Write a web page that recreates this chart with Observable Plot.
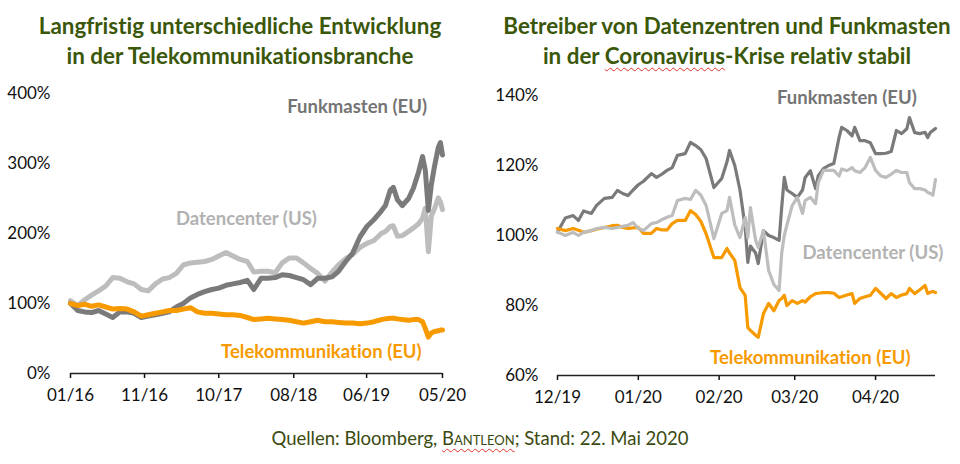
<!DOCTYPE html>
<html><head><meta charset="utf-8">
<script src="https://cdn.jsdelivr.net/npm/d3@7"></script>
<script src="https://cdn.jsdelivr.net/npm/@observablehq/plot@0.6"></script>
<style>
body{margin:0;background:#fff;font-family:Lato,"Open Sans",sans-serif;font-variant-ligatures:none;}
#wrap{position:relative;width:960px;height:464px;overflow:hidden;background:#fff}
.col{position:absolute;top:0;width:480px}
.title{height:70px;box-sizing:border-box;padding-top:11px;text-align:center;font-weight:bold;font-size:22.4px;line-height:30px;color:#3a570a;white-space:nowrap}
.wavy{text-decoration:underline wavy #e03030;text-decoration-thickness:1px;text-underline-offset:3px}
.sc{font-variant:small-caps}
#caption{position:absolute;left:0;width:960px;top:426px;text-align:center;font-size:18.5px;line-height:24px;color:#3b4a10}
svg text{font-variant-ligatures:none}
</style></head>
<body>
<div id="wrap">
  <div class="col" id="colL" style="left:0">
    <div class="title">Langfristig unterschiedliche Entwicklung<br>in der Telekommunikationsbranche</div>
  </div>
  <div class="col" id="colR" style="left:480px">
    <div class="title" style="padding-left:14px">Betreiber von Datenzentren und Funkmasten<br>in der <span class="wavy">Coronavirus</span>-Krise relativ stabil</div>
  </div>
  <div id="caption">Quellen: Bloomberg, <span class="sc wavy">Bantleon</span>; Stand: 22. Mai 2020</div>
</div>
<script>
// ---------- colours ----------
const cFunk = "#7a7a7a", cDaten = "#bdbdbd", cTele = "#f79a00";
const cFunkText = "#747474", cDatenText = "#b2b2b2";

// ---------- left panel data (index, 01/2016 = 100%) ----------
const leftDates = ["2016-01-01","2016-02-01","2016-03-01","2016-04-01","2016-05-01","2016-06-01","2016-07-01","2016-08-01","2016-09-01","2016-10-01","2016-11-01","2016-12-01",
"2017-01-01","2017-02-01","2017-03-01","2017-04-01","2017-05-01","2017-06-01","2017-07-01","2017-08-01","2017-09-01","2017-10-01","2017-11-01","2017-12-01",
"2018-01-01","2018-02-01","2018-03-01","2018-04-01","2018-05-01","2018-06-01","2018-07-01","2018-08-01","2018-09-01","2018-10-01","2018-11-01","2018-12-01",
"2019-01-01","2019-02-01","2019-03-01","2019-04-01","2019-05-01","2019-06-01","2019-07-01","2019-08-01","2019-09-01","2019-09-19","2019-10-10","2019-10-23","2019-11-10","2019-12-01","2019-12-28",
"2020-01-18","2020-02-09","2020-02-26","2020-03-09","2020-03-22","2020-04-04","2020-04-17","2020-05-04","2020-05-13","2020-05-22"];
const leftDaten = [104,97,105,112,118,125,137,136,131,128,120,118,
128,135,137,143,155,158,159,160,163,168,173,168,
163,160,145,146,146,144,158,165,165,158,150,143,
132,145,155,164,170,180,186,190,200,203,210,211,196,197,203,
208,214,222,236,174,225,235,251,245,234];
const leftFunk = [100,90,88,87,90,85,80,88,88,86,80,82,
84,86,88,95,100,108,113,117,120,122,126,128,
130,133,120,136,136,137,141,140,137,134,127,136,
136,138,146,160,172,195,210,220,232,240,262,266,248,240,250,
265,288,310,290,233,270,295,323,330,312];
const leftTele = [100,97,99,96,98,95,92,93,92,88,82,84,
86,88,90,90,92,94,88,86,86,85,84,84,
83,80,77,78,79,78,77,76,74,72,74,76,
74,74,73,72,72,71,72,74,77,78,79,79,78,77,76,
77,77,74,64,52,58,60,61,62,62];
const leftTicks = ["2016-01-01","2016-11-15","2017-10-01","2018-08-20","2019-06-30","2020-05-22"];
const leftYTicks = [0,100,200,300,400];
const leftLabelText = ["Funkmasten (EU)","Datencenter (US)","Telekommunikation (EU)"];
const leftLabelDate = ["2019-05-20","2018-01-28","2018-12-17"];
const leftLabelValue = [381,220,31];

// ---------- right panel data (index, 12/2019 = 100%) ----------
const rightDates = ["2019-12-01","2019-12-04","2019-12-07","2019-12-09","2019-12-11","2019-12-14","2019-12-16","2019-12-19","2019-12-22","2019-12-24","2019-12-26","2019-12-28","2019-12-30",
"2020-01-01","2020-01-03","2020-01-06","2020-01-08","2020-01-10","2020-01-12","2020-01-14","2020-01-16","2020-01-19","2020-01-21","2020-01-23","2020-01-25","2020-01-27","2020-01-30",
"2020-02-02","2020-02-04","2020-02-05","2020-02-07","2020-02-09","2020-02-11","2020-02-12","2020-02-13","2020-02-15","2020-02-16","2020-02-18","2020-02-20","2020-02-22","2020-02-24","2020-02-25","2020-02-26","2020-02-27","2020-02-29",
"2020-03-02","2020-03-04","2020-03-05","2020-03-07","2020-03-09","2020-03-10","2020-03-12","2020-03-14","2020-03-16","2020-03-18","2020-03-19","2020-03-21","2020-03-23","2020-03-24","2020-03-26","2020-03-28","2020-03-30",
"2020-04-01","2020-04-03","2020-04-05","2020-04-07","2020-04-09","2020-04-11","2020-04-13","2020-04-14","2020-04-16","2020-04-18","2020-04-20","2020-04-21","2020-04-22","2020-04-23","2020-04-24"];
const rightFunk = [101,105,105.7,104.3,107,106.3,108.6,110.6,110.9,112.9,112,111.4,113,
114.5,115.5,117.7,116.6,117.5,118.6,119.4,122.9,123.4,126.6,125.7,124.5,122,113.7,
116.3,121,124.3,120,113,102.3,92.3,97,95,92,101.4,100,99.4,98.6,108,116.6,113,112,
110.9,113,116.6,118.5,113.4,117,119.1,120,120.6,128,130.9,130,128.5,130.9,127.1,127.1,126.5,
123.4,123.4,123.5,124,130,129.1,130.5,133.7,129.4,129.1,129.5,128,129.4,130,130.6];
const rightDaten = [101,100,100.9,100,100.9,101.4,102,102.3,102,102.3,102.6,102.9,103.7,
102,101.4,103.4,103.7,104.5,105.2,105.7,110,110.6,110.3,112.9,111.5,108.6,99.1,
106.3,107.1,110.9,103,99.4,105.1,99.4,108,98.6,96.6,101.4,90,86,84.3,95,100,103,108.5,
110.9,106.3,110,110.9,109.1,115,118.6,118.6,118.6,117,119,118.5,119.4,118.5,118,119.4,122.3,
118.6,117,116.6,117.5,118.6,118,118,115.1,113.4,113.4,113,112.3,112,111.5,116];
const rightTele = [102,101.4,102,101.5,100.9,101.4,101.8,102.3,102.8,102.9,102.3,102,102.2,
102.3,100.6,100.6,102,101.6,101.6,103.4,104.3,104.3,107.1,106,104,100.5,93.7,
93.7,96.3,95,92.9,85.1,82.9,73.7,72.9,71.5,70.9,77.7,80.6,78.5,81.4,82,82.9,80,81.4,
80.6,81.4,81,82.5,83.4,83.5,83.7,83.7,83.5,82.3,82.5,83,83.4,80.6,82,82.5,82.9,
84.9,83.5,82,83.4,82.3,83,83.4,84.9,83.4,84.5,85.7,83.4,83.8,84,83.7];
const rightTicks = ["2019-12-01","2020-01-01","2020-02-01","2020-03-01","2020-04-01"];
const rightYTicks = [60,80,100,120,140];
const rightLabelText = ["Funkmasten (EU)","Datencenter (US)","Telekommunikation (EU)"];
const rightLabelDate = ["2020-03-21","2020-03-31","2020-03-07"];
const rightLabelValue = [139.4,95.1,65.1];

// ---------- build tables ----------
const toRows = (dates, vals) => dates.map((d,i)=>({date:new Date(d), v:vals[i]}));
const labelColors = [cFunkText, cDatenText, cTele];
const toLabels = (t,d,v) => t.map((s,i)=>({text:s, date:new Date(d[i]), v:v[i], color:labelColors[i]}));
const pct = d => d + "%";
const fmt = d3.utcFormat("%m/%y");
const style = {fontFamily:"Lato, 'Open Sans', sans-serif", fontSize:"17px", color:"#111", background:"#fff", overflow:"visible"};

const left = Plot.plot({
  width:480, height:350, marginLeft:70, marginRight:38, marginTop:23, marginBottom:47,
  style,
  x:{type:"utc", domain:[new Date("2016-01-01"), new Date("2020-05-22")]},
  y:{domain:[0,400]},
  color:{type:"identity"},
  marks:[
    Plot.axisY({ticks:leftYTicks, tickFormat:pct, tickSize:0, tickPadding:20, label:null}),
    Plot.axisX({ticks:leftTicks.map(d=>new Date(d)), tickFormat:fmt, tickSize:5, tickPadding:10, label:null, strokeWidth:1.5}),
    Plot.ruleY([0], {stroke:"#222", strokeWidth:1.5}),
    Plot.line(toRows(leftDates,leftDaten), {x:"date", y:"v", stroke:cDaten, strokeWidth:5, strokeLinejoin:"round"}),
    Plot.line(toRows(leftDates,leftFunk), {x:"date", y:"v", stroke:cFunk, strokeWidth:5, strokeLinejoin:"round"}),
    Plot.line(toRows(leftDates,leftTele), {x:"date", y:"v", stroke:cTele, strokeWidth:5, strokeLinejoin:"round"}),
    Plot.text(toLabels(leftLabelText,leftLabelDate,leftLabelValue), {x:"date", y:"v", text:"text", fill:"color", fontWeight:"bold", fontSize:18.5})
  ]
});

const right = Plot.plot({
  width:480, height:350, marginLeft:77, marginRight:25, marginTop:25, marginBottom:45,
  style,
  x:{type:"utc", domain:[new Date("2019-12-01"), new Date("2020-04-24")]},
  y:{domain:[60,140]},
  color:{type:"identity"},
  marks:[
    Plot.axisY({ticks:rightYTicks, tickFormat:pct, tickSize:0, tickPadding:19, label:null}),
    Plot.axisX({ticks:rightTicks.map(d=>new Date(d)), tickFormat:fmt, tickSize:5, tickPadding:10, label:null, strokeWidth:1.5}),
    Plot.ruleY([60], {stroke:"#222", strokeWidth:1.5}),
    Plot.line(toRows(rightDates,rightFunk), {x:"date", y:"v", stroke:cFunk, strokeWidth:3.2, strokeLinejoin:"round"}),
    Plot.line(toRows(rightDates,rightTele), {x:"date", y:"v", stroke:cTele, strokeWidth:3.2, strokeLinejoin:"round"}),
    Plot.line(toRows(rightDates,rightDaten), {x:"date", y:"v", stroke:cDaten, strokeWidth:3.2, strokeLinejoin:"round"}),
    Plot.text(toLabels(rightLabelText,rightLabelDate,rightLabelValue), {x:"date", y:"v", text:"text", fill:"color", fontWeight:"bold", fontSize:18.5})
  ]
});

document.getElementById("colL").appendChild(left);
document.getElementById("colR").appendChild(right);
</script>
</body></html>
